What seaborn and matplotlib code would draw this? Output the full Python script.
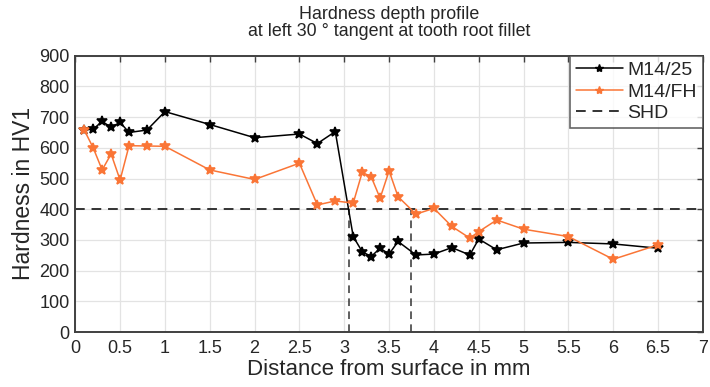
import numpy as np
import pandas as pd
import matplotlib
matplotlib.use("Agg")
import matplotlib.pyplot as plt
import seaborn as sns
from matplotlib.ticker import FormatStrFormatter
from matplotlib.lines import Line2D

# depth values (mm) and hardness (HV1)
depth_m25 = [0.1, 0.2, 0.3, 0.4, 0.5, 0.6, 0.8, 1.0, 1.5, 2.0, 2.5, 2.7, 2.9,
             3.1, 3.2, 3.3, 3.4, 3.5, 3.6, 3.8, 4.0, 4.2, 4.4, 4.5, 4.7,
             5.0, 5.5, 6.0, 6.5]
hv_m25 = [658, 661, 686, 667, 683, 650, 658, 718, 676, 633, 645, 614, 653,
          311, 262, 246, 273, 254, 295, 251, 254, 275, 251, 303, 268,
          290, 292, 287, 273]

depth_fh = [0.1, 0.2, 0.3, 0.4, 0.5, 0.6, 0.8, 1.0, 1.5, 2.0, 2.5, 2.7, 2.9,
            3.1, 3.2, 3.3, 3.4, 3.5, 3.6, 3.8, 4.0, 4.2, 4.4, 4.5, 4.7,
            5.0, 5.5, 6.0, 6.5]
hv_fh = [658, 600, 528, 580, 495, 607, 606, 605, 528, 497, 550, 414, 427,
         420, 520, 506, 436, 525, 441, 384, 403, 344, 306, 327, 365,
         335, 311, 237, 284]

shd_level = 400
shd_depths = [3.05, 3.75]

df_m25 = pd.DataFrame({"depth": depth_m25, "hv": hv_m25})
df_fh = pd.DataFrame({"depth": depth_fh, "hv": hv_fh})

sns.set_style("white")
plt.rcParams["font.family"] = ["Liberation Sans", "DejaVu Sans"]
text_col = "#262626"
orange = "#FA7536"
shd_col = "#333333"
dash = (0, (5, 3.5))

fig, ax = plt.subplots(figsize=(7.1, 3.87), dpi=100)
fig.subplots_adjust(left=0.106, right=0.990, top=0.856, bottom=0.142)

sns.lineplot(data=df_m25, x="depth", y="hv", color="black", marker="*",
             markersize=7, markeredgecolor="black", markeredgewidth=1.2,
             linewidth=1.1, ax=ax, sort=False, zorder=3)
sns.lineplot(data=df_fh, x="depth", y="hv", color=orange, marker="*",
             markersize=7, markeredgecolor=orange, markeredgewidth=1.2,
             linewidth=1.1, ax=ax, sort=False, zorder=4)

ax.axhline(shd_level, color=shd_col, linestyle=dash, linewidth=1.4)
for d in shd_depths:
    ax.plot([d, d], [0, shd_level], color=shd_col, linestyle=dash,
            linewidth=1.1)

ax.set_xlim(0, 7)
ax.set_ylim(0, 900)
ax.set_xticks(np.arange(0, 7.01, 0.5))
ax.set_yticks(np.arange(0, 901, 100))
ax.xaxis.set_major_formatter(FormatStrFormatter("%g"))
ax.grid(True, color="#e3e3e3", linewidth=0.9)
ax.tick_params(direction="in", top=True, right=True, length=4, width=1,
               colors="#404040", labelcolor=text_col, labelsize=13)
ax.tick_params(axis="x", pad=6)
ax.tick_params(axis="y", pad=4)
for s in ax.spines.values():
    s.set_color("#404040")
    s.set_linewidth(1.4)

ax.set_xlabel("Distance from surface in mm", fontsize=16, color=text_col, labelpad=1)
ax.set_ylabel("Hardness in HV1", fontsize=16.5, color=text_col, labelpad=3)
ax.set_title("Hardness depth profile\nat left 30 ° tangent at tooth root fillet",
             fontsize=12.9, color=text_col, pad=14, linespacing=1.02)

handles = [
    Line2D([], [], color="black", marker="*", markersize=6, linewidth=1.1),
    Line2D([], [], color=orange, marker="*", markersize=6, linewidth=1.1),
    Line2D([], [], color=shd_col, linestyle=dash, linewidth=1.4),
]
leg = ax.legend(handles, ["M14/25", "M14/FH", "SHD"], loc="upper right",
                fontsize=14, frameon=True, fancybox=False, borderaxespad=0,
                handlelength=2.4, handletextpad=0.25, borderpad=0.3,
                labelspacing=0.2)
leg.get_frame().set_edgecolor("#404040")
leg.get_frame().set_linewidth(1.2)
for t in leg.get_texts():
    t.set_color(text_col)

fig.savefig("out.png", dpi=100)
